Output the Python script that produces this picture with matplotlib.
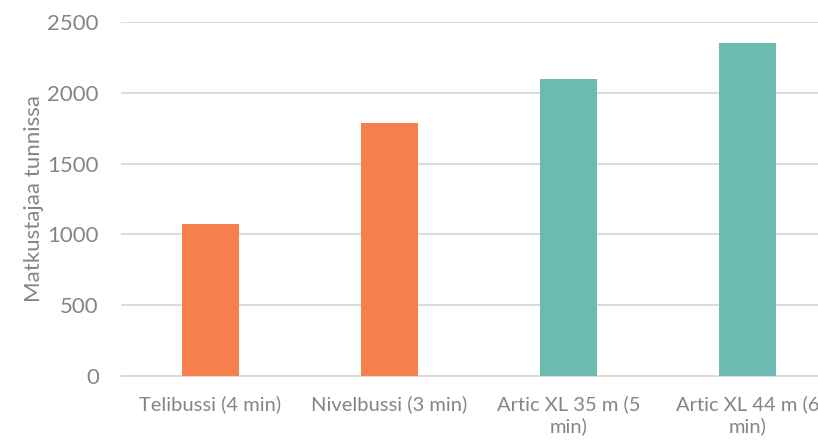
import matplotlib.pyplot as plt
import numpy as np

categories = ["Telibussi (4 min)", "Nivelbussi (3 min)", "Artic XL 35 m (5\nmin)", "Artic XL 44 m (6\nmin)"]
values = [1070, 1785, 2100, 2350]
colors = ["#F5804D", "#F5804D", "#6BBBB1", "#6BBBB1"]

plt.rcParams['font.family'] = ['Lato', 'DejaVu Sans']
text_color = "#858585"

fig = plt.figure(figsize=(8.18, 4.41), dpi=100)
ax = fig.add_axes([121 / 818, 65 / 441, 716 / 818, 354 / 441])

x = np.arange(len(categories))
ax.bar(x, values, width=0.32, color=colors, zorder=3)

ax.set_xlim(-0.5, 3.5)
ax.set_ylim(0, 2500)
ax.set_yticks(np.arange(0, 2501, 500))
ax.yaxis.grid(True, color="#D9D9D9", linewidth=1.3, zorder=0)
ax.set_xticks(x)
ax.set_xticklabels(categories, fontsize=14.5, color=text_color, linespacing=1.25)
ax.tick_params(axis='y', labelsize=16, colors=text_color, length=0, pad=16)
ax.tick_params(axis='x', length=0, pad=14)
for s in ["top", "right", "left"]:
    ax.spines[s].set_visible(False)
ax.spines["bottom"].set_color("#D9D9D9")
ax.spines["bottom"].set_linewidth(1.3)
ax.set_ylabel("Matkustajaa tunnissa", fontsize=16, color=text_color, labelpad=2)

fig.savefig("out.png", dpi=100)
